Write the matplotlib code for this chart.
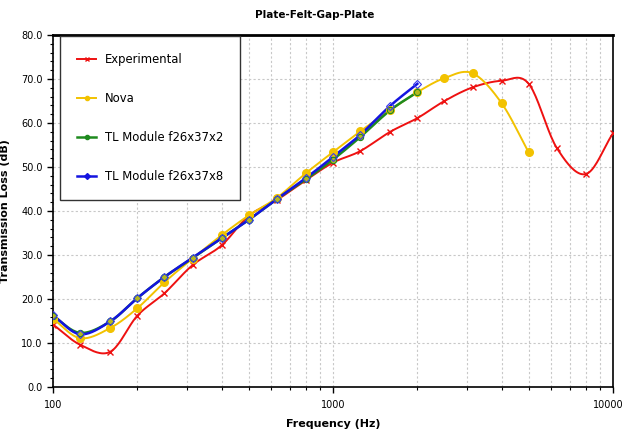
import numpy as np
import matplotlib
matplotlib.use("Agg")
import matplotlib.pyplot as plt
import matplotlib.transforms as mtrans
from matplotlib.ticker import FixedLocator, MultipleLocator, NullFormatter

# third-octave frequencies
freq = [100, 125, 160, 200, 250, 315, 400, 500, 630, 800, 1000, 1250,
        1600, 2000, 2500, 3150, 4000, 5000, 6300, 8000, 10000]

exp_tl = [14.2, 9.6, 8.0, 16.2, 21.3, 27.7, 32.2, 38.9, 42.5, 47.0, 51.0,
          53.6, 58.0, 61.1, 65.0, 68.1, 69.6, 68.9, 54.3, 48.4, 57.7]
nova_tl = [15.5, 11.1, 13.4, 17.9, 23.8, 29.2, 34.5, 39.0, 43.0, 48.6,
           53.4, 58.1, 62.9, 67.0, 70.2, 71.3, 64.5, 53.3]
tl2_tl = [16.1, 12.3, 14.9, 20.2, 25.0, 29.3, 33.8, 38.0, 42.7, 47.2,
          51.7, 56.8, 62.9, 67.0]
tl8_tl = [16.3, 12.0, 14.9, 20.2, 25.0, 29.4, 33.8, 38.0, 42.7, 47.5,
          52.3, 57.3, 63.9, 68.9]


def smooth(x, y, n=20):
    # catmull-rom through the points, in log-frequency
    lx = np.log10(np.asarray(x, float))
    y = np.asarray(y, float)
    px = np.concatenate([[2 * lx[0] - lx[1]], lx, [2 * lx[-1] - lx[-2]]])
    py = np.concatenate([[2 * y[0] - y[1]], y, [2 * y[-1] - y[-2]]])
    xs, ys = [], []
    t = np.linspace(0, 1, n, endpoint=False)
    for i in range(1, len(px) - 2):
        for arr, out in ((px, xs), (py, ys)):
            p0, p1, p2, p3 = arr[i - 1], arr[i], arr[i + 1], arr[i + 2]
            out.extend(0.5 * (2 * p1 + (-p0 + p2) * t
                              + (2 * p0 - 5 * p1 + 4 * p2 - p3) * t ** 2
                              + (-p0 + 3 * p1 - 3 * p2 + p3) * t ** 3))
    xs.append(lx[-1])
    ys.append(y[-1])
    return 10 ** np.array(xs), np.array(ys)


fig = plt.figure(figsize=(6.26, 4.30), dpi=100)
ax = fig.add_axes([0.0847, 0.100, 0.8946, 0.8186])

series = [
    ("Experimental", exp_tl, "#ee1111", dict(marker="x", ms=4, mew=1.0), 1.4),
    ("Nova", nova_tl, "#f2c200", dict(marker="o", ms=5.5, mfc="#f2c200", mec="#f2c200"), 1.4),
    ("TL Module f26x37x2", tl2_tl, "#1e8a1e", dict(marker="o", ms=4.5, mfc="#b5b81e", mec="#1e8a1e", mew=0.8), 1.8),
    ("TL Module f26x37x8", tl8_tl, "#1414e0", dict(marker="D", ms=4, mfc="none", mec="#3a3aee", mew=0.8), 1.8),
]

for name, vals, col, mk, lw in series:
    f = freq[:len(vals)]
    sx, sy = smooth(f, vals)
    ax.plot(sx, sy, color=col, lw=lw, zorder=3)
    ax.plot(f, vals, ls="none", color=col, zorder=4, **mk)
    # legend proxy
    ax.plot([], [], color=col, lw=lw, label=name, marker=mk["marker"],
            ms=3, mfc=col, mec=col)

ax.set_xscale("log")
ax.set_xlim(100, 10000)
ax.set_ylim(0, 80)
ax.xaxis.set_major_locator(FixedLocator([100, 1000, 10000]))
ax.xaxis.set_minor_locator(FixedLocator([m * d for d in (100, 1000) for m in range(2, 10)]))
ax.xaxis.set_minor_formatter(NullFormatter())
ax.set_xticklabels(["100", "1000", "10000"])
ax.yaxis.set_major_locator(MultipleLocator(10))
ax.yaxis.set_minor_locator(MultipleLocator(2))
ax.set_yticks(np.arange(0, 81, 10))
ax.set_yticklabels(["%.1f" % v for v in np.arange(0, 81, 10)])

ax.grid(True, which="both", axis="x", color="#c8c8c8", ls=(0, (2, 2)), lw=0.8)
ax.grid(True, which="major", axis="y", color="#c8c8c8", ls=(0, (2, 2)), lw=0.8)
ax.tick_params(axis="both", which="major", labelsize=7, length=4, width=1, colors="black")
ax.tick_params(axis="both", which="minor", length=2.5, width=0.8)
ax.tick_params(axis="x", which="major", pad=5)
for s in ax.spines.values():
    s.set_linewidth(1.2)
ax.spines["top"].set_linewidth(2.0)

# last label sits at the right edge of the picture
last = ax.get_xticklabels()[-1]
last.set_horizontalalignment("right")
last.set_transform(last.get_transform() + mtrans.ScaledTranslation(11 / 100, 0, fig.dpi_scale_trans))

ax.set_xlabel("Frequency (Hz)", fontsize=8, fontweight="bold", labelpad=7)
ax.set_ylabel("Transmission Loss (dB)", fontsize=8, fontweight="bold", labelpad=8)
fig.text(0.503, 0.965, "Plate-Felt-Gap-Plate", ha="center", va="center",
         fontsize=7.5, fontweight="bold")

leg = ax.legend(loc="upper left", bbox_to_anchor=(0.012, 0.997), fontsize=8.4,
                handlelength=1.7, labelspacing=2.22, borderpad=1.45,
                handletextpad=0.7, fancybox=False, framealpha=1,
                edgecolor="#333333", borderaxespad=0.0)
leg.get_frame().set_linewidth(1.0)

fig.savefig("out.png", dpi=100)
